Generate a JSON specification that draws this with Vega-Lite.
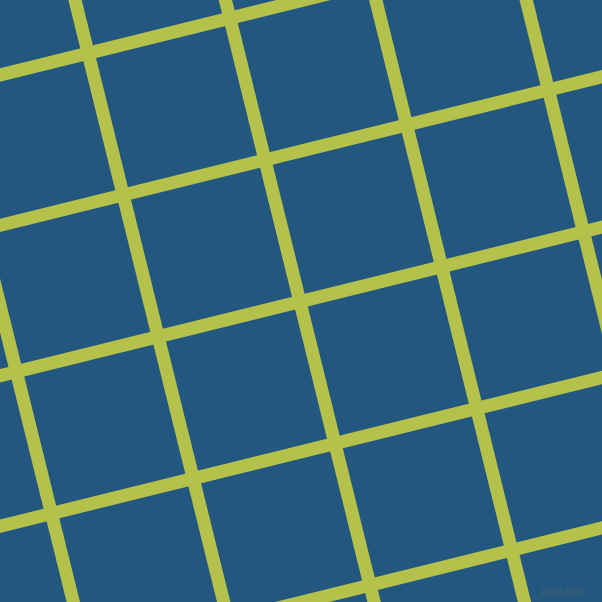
{
  "$schema": "https://vega.github.io/schema/vega-lite/v6.json",
  "width": 602,
  "height": 602,
  "autosize": {"type": "fit", "contains": "padding"},
  "padding": 0,
  "background": "#245780",
  "config": {"view": {"stroke": null}},
  "layer": [
    {
      "data": {
        "values": [
          {"g": "v1", "x": -82.81, "y": -30},
          {"g": "v1", "x": 80.7, "y": 632},
          {"g": "v2", "x": 67.59, "y": -30},
          {"g": "v2", "x": 231.1, "y": 632},
          {"g": "v3", "x": 217.99, "y": -30},
          {"g": "v3", "x": 381.5, "y": 632},
          {"g": "v4", "x": 368.39, "y": -30},
          {"g": "v4", "x": 531.9, "y": 632},
          {"g": "v5", "x": 518.79, "y": -30},
          {"g": "v5", "x": 682.3, "y": 632},
          {"g": "h1", "x": -30, "y": 82.41},
          {"g": "h1", "x": 632, "y": -81.1},
          {"g": "h2", "x": -30, "y": 232.81},
          {"g": "h2", "x": 632, "y": 69.3},
          {"g": "h3", "x": -30, "y": 383.21},
          {"g": "h3", "x": 632, "y": 219.7},
          {"g": "h4", "x": -30, "y": 533.61},
          {"g": "h4", "x": 632, "y": 370.1},
          {"g": "h5", "x": -30, "y": 684.01},
          {"g": "h5", "x": 632, "y": 520.5}
        ]
      },
      "mark": {"type": "line", "clip": true, "strokeWidth": 13, "color": "#b4c14a", "strokeCap": "butt"},
      "encoding": {
        "x": {"field": "x", "type": "quantitative", "scale": {"domain": [0, 602], "nice": false, "zero": false}, "axis": null},
        "y": {"field": "y", "type": "quantitative", "scale": {"domain": [0, 602], "nice": false, "zero": false, "reverse": true}, "axis": null},
        "detail": {"field": "g"}
      }
    },
    {
      "data": {"values": [{"x": 563, "y": 592, "t": "pixlis.com"}]},
      "mark": {"type": "text", "font": "Liberation Sans", "fontSize": 10, "color": "#40616f", "align": "center", "baseline": "middle"},
      "encoding": {
        "x": {"field": "x", "type": "quantitative", "scale": {"domain": [0, 602], "nice": false, "zero": false}, "axis": null},
        "y": {"field": "y", "type": "quantitative", "scale": {"domain": [0, 602], "nice": false, "zero": false, "reverse": true}, "axis": null},
        "text": {"field": "t"}
      }
    }
  ]
}
